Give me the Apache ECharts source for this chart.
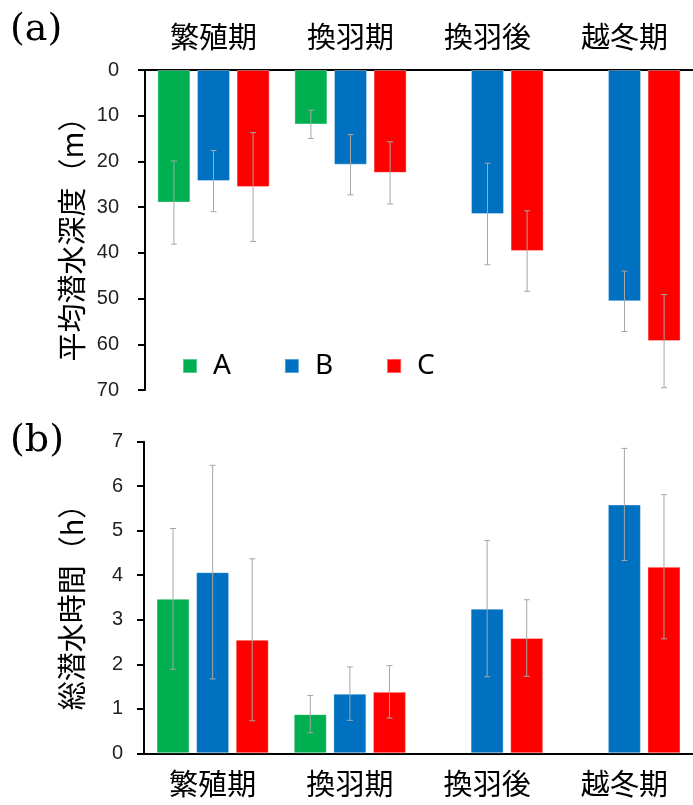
<!DOCTYPE html>
<html><head><meta charset="utf-8">
<script src="https://cdn.jsdelivr.net/npm/echarts@6/dist/echarts.min.js"></script>
<style>html,body{margin:0;padding:0;background:#fff}#c{width:693px;height:805px}</style>
</head><body><div id="c"></div>
<script>
// ---- data ----
const categories = ['繁殖期', '換羽期', '換羽後', '越冬期'];
const seriesNames = ['A', 'B', 'C'];
// (a) mean dive depth (m)
const depthA = [29.0, 11.9, null, null];
const depthB = [24.3, 20.7, 31.5, 50.6];
const depthC = [25.6, 22.5, 39.6, 59.3];
const depthErrA = [9.1, 3.1, null, null];
const depthErrB = [6.7, 6.6, 11.1, 6.6];
const depthErrC = [11.9, 6.8, 8.8, 10.2];
// (b) total dive time (h)
const timeA = [3.47, 0.88, null, null];
const timeB = [4.07, 1.34, 3.25, 5.59];
const timeC = [2.55, 1.38, 2.59, 4.19];
const timeErrA = [1.58, 0.42, null, null];
const timeErrB = [2.40, 0.60, 1.53, 1.26];
const timeErrC = [1.82, 0.59, 0.86, 1.62];
const depthTicks = [0, 10, 20, 30, 40, 50, 60, 70];
const timeTicks = [0, 1, 2, 3, 4, 5, 6, 7];
const depthTitle = '平均潜水深度（m）';
const timeTitle = '総潜水時間（h）';
const panelLabels = ['(a)', '(b)'];

// ---- style ----
const colors = ['#00B050', '#0070C0', '#FF0000'];
const BAR_W = 33;
const BAR_GAP = 0.2;
const STEP = BAR_W * (1 + BAR_GAP);
const ERR_COLOR = '#A6A6A6';
const CJK = '"Noto Sans CJK JP", sans-serif';

const chart = echarts.init(document.getElementById('c'), null, {renderer: 'canvas'});

function barData(vals) { return vals.map(v => v == null ? '-' : v); }
function errData(vals, errs) {
  const out = [];
  vals.forEach((v, i) => { if (v != null && errs[i] != null) out.push([i, v - errs[i], v + errs[i]]); });
  return out;
}
function errRender(offsetIdx) {
  return function (params, api) {
    const i = api.value(0);
    const p1 = api.coord([i, api.value(1)]);
    const p2 = api.coord([i, api.value(2)]);
    const x = p1[0] + offsetIdx * STEP;
    const cap = 3;
    const st = {stroke: ERR_COLOR, lineWidth: 1};
    return {type: 'group', children: [
      {type: 'line', shape: {x1: x, y1: p1[1], x2: x, y2: p2[1]}, style: st},
      {type: 'line', shape: {x1: x - cap, y1: p1[1], x2: x + cap, y2: p1[1]}, style: st},
      {type: 'line', shape: {x1: x - cap, y1: p2[1], x2: x + cap, y2: p2[1]}, style: st}
    ]};
  };
}

const depthVals = [depthA, depthB, depthC];
const depthErrs = [depthErrA, depthErrB, depthErrC];
const timeVals = [timeA, timeB, timeC];
const timeErrs = [timeErrA, timeErrB, timeErrC];

const series = [];
[0, 1].forEach(g => {
  const vals = g === 0 ? depthVals : timeVals;
  const errs = g === 0 ? depthErrs : timeErrs;
  seriesNames.forEach((n, k) => {
    series.push({
      name: n, type: 'bar', xAxisIndex: g, yAxisIndex: g,
      data: barData(vals[k]), barWidth: BAR_W, barGap: (BAR_GAP * 100) + '%',
      itemStyle: {color: colors[k], borderColor: 'rgba(255,255,255,0.35)', borderWidth: 1},
      z: 2
    });
  });
  seriesNames.forEach((n, k) => {
    series.push({
      name: 'err' + n + g, type: 'custom', xAxisIndex: g, yAxisIndex: g,
      data: errData(vals[k], errs[k]), renderItem: errRender(k - 1),
      encode: {x: 0, y: [1, 2]}, z: 5, silent: true
    });
  });
});

const catAxisCommon = {
  type: 'category', data: categories,
  axisLine: {lineStyle: {color: '#000', width: 2}},
  axisTick: {show: false},
  axisLabel: {color: '#000', fontSize: 29, fontFamily: CJK}
};
const valAxisCommon = {
  type: 'value', splitLine: {show: false},
  axisLine: {show: true, lineStyle: {color: '#000', width: 2}},
  axisTick: {show: true, length: 7, lineStyle: {color: '#000', width: 2}},
  axisLabel: {color: '#222', fontSize: 20, fontFamily: '"Liberation Sans", Arial, sans-serif'}
};

chart.setOption({
  animation: false,
  backgroundColor: '#fff',
  grid: [
    {left: 145, width: 557, top: 70, height: 320},
    {left: 144, width: 558, top: 441.7, height: 311.6}
  ],
  legend: {
    data: seriesNames, left: 182, top: 352, padding: 0, icon: 'rect', itemWidth: 14, itemHeight: 14,
    itemGap: 53, textStyle: {fontSize: 28, color: '#000', fontFamily: '"Noto Sans", sans-serif', padding: [0, 0, 0, 11]}
  },
  xAxis: [
    Object.assign({}, catAxisCommon, {gridIndex: 0, position: 'top', axisLabel: Object.assign({}, catAxisCommon.axisLabel, {margin: 19})}),
    Object.assign({}, catAxisCommon, {gridIndex: 1, position: 'bottom', axisLabel: Object.assign({}, catAxisCommon.axisLabel, {margin: 16})})
  ],
  yAxis: [
    Object.assign({}, valAxisCommon, {gridIndex: 0, inverse: true, min: depthTicks[0], max: depthTicks[depthTicks.length - 1], interval: 10,
      axisLabel: Object.assign({}, valAxisCommon.axisLabel, {margin: 26})}),
    Object.assign({}, valAxisCommon, {gridIndex: 1, min: timeTicks[0], max: timeTicks[timeTicks.length - 1], interval: 1,
      axisLabel: Object.assign({}, valAxisCommon.axisLabel, {margin: 21})})
  ],
  graphic: [
    {type: 'text', left: 10, top: 11, style: {text: panelLabels[0], font: '38px "DejaVu Serif", serif', fill: '#000'}},
    {type: 'text', left: 10, top: 422, style: {text: panelLabels[1], font: '38px "DejaVu Serif", serif', fill: '#000'}},
    {type: 'text', x: 72, y: 232, rotation: Math.PI / 2,
      style: {text: depthTitle, font: '29px ' + CJK, fill: '#000', align: 'center', verticalAlign: 'middle'}},
    {type: 'text', x: 72, y: 600, rotation: Math.PI / 2,
      style: {text: timeTitle, font: '29px ' + CJK, fill: '#000', align: 'center', verticalAlign: 'middle'}}
  ],
  series: series
});
</script></body></html>
